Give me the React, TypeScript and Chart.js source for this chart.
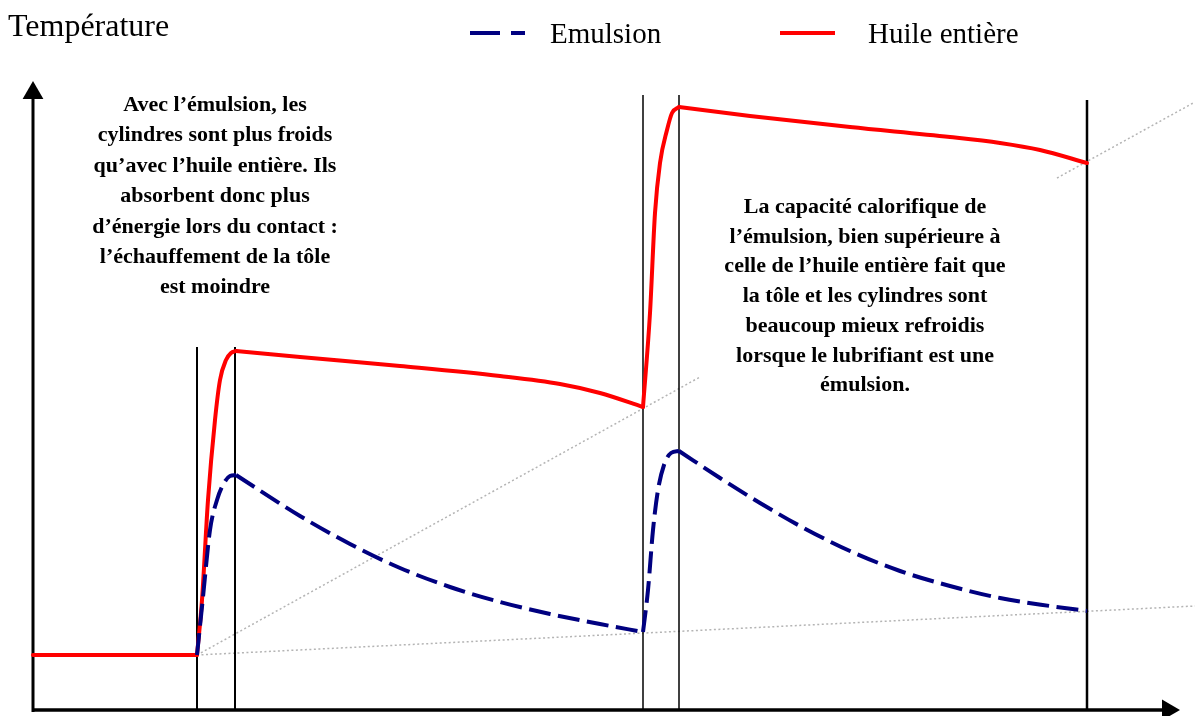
import React, { useEffect, useRef } from "react";
import { Chart, registerables } from "chart.js";

Chart.register(...registerables);

// Units: x = time (arbitrary), y = temperature (arbitrary)
const X_MIN = -3.3;
const X_MAX = 116.2;
const Y_MIN = -0.6;
const Y_MAX = 71.0;

// Huile entière (red)
const huilePalier = [
  { x: 0, y: 5.5 },
  { x: 16.4, y: 5.5 },
];
const huileMontee1 = [
  { x: 16.4, y: 5.5 },
  { x: 16.9, y: 11.0 },
  { x: 17.5, y: 21.0 },
  { x: 18.2, y: 29.0 },
  { x: 18.7, y: 33.0 },
  { x: 19.3, y: 35.0 },
  { x: 19.8, y: 35.7 },
  { x: 20.3, y: 35.9 },
];
const huileRefroid1 = [
  { x: 20.3, y: 35.9 },
  { x: 26.7, y: 35.3 },
  { x: 36.7, y: 34.4 },
  { x: 46.7, y: 33.4 },
  { x: 52.7, y: 32.6 },
  { x: 56.7, y: 31.7 },
  { x: 61.0, y: 30.3 },
];
const huileMontee2 = [
  { x: 61.0, y: 30.3 },
  { x: 61.7, y: 39.7 },
  { x: 62.2, y: 49.7 },
  { x: 62.7, y: 54.7 },
  { x: 63.4, y: 58.0 },
  { x: 63.9, y: 59.7 },
  { x: 64.6, y: 60.3 },
];
const huileRefroid2 = [
  { x: 64.6, y: 60.3 },
  { x: 71.7, y: 59.4 },
  { x: 81.7, y: 58.3 },
  { x: 91.7, y: 57.3 },
  { x: 96.7, y: 56.7 },
  { x: 100.7, y: 56.0 },
  { x: 105.4, y: 54.7 },
];

// Emulsion (navy dashed)
const emulsionMontee1 = [
  { x: 16.4, y: 5.5 },
  { x: 17.0, y: 11.3 },
  { x: 17.7, y: 18.0 },
  { x: 18.4, y: 21.0 },
  { x: 19.1, y: 22.7 },
  { x: 19.7, y: 23.4 },
  { x: 20.3, y: 23.5 },
];
const emulsionRefroid1 = [
  { x: 20.3, y: 23.5 },
  { x: 26.7, y: 19.4 },
  { x: 31.7, y: 16.6 },
  { x: 36.7, y: 14.2 },
  { x: 41.7, y: 12.3 },
  { x: 46.7, y: 10.8 },
  { x: 51.7, y: 9.6 },
  { x: 56.7, y: 8.6 },
  { x: 61.0, y: 7.8 },
];
const emulsionMontee2 = [
  { x: 61.0, y: 7.8 },
  { x: 61.5, y: 12.0 },
  { x: 62.0, y: 18.0 },
  { x: 62.5, y: 22.0 },
  { x: 63.1, y: 24.5 },
  { x: 63.8, y: 25.7 },
  { x: 64.6, y: 25.9 },
];
const emulsionRefroid2 = [
  { x: 64.6, y: 25.9 },
  { x: 68.7, y: 23.2 },
  { x: 72.7, y: 20.7 },
  { x: 76.7, y: 18.4 },
  { x: 81.7, y: 15.9 },
  { x: 86.7, y: 13.9 },
  { x: 91.7, y: 12.4 },
  { x: 96.7, y: 11.2 },
  { x: 101.7, y: 10.4 },
  { x: 105.4, y: 9.9 },
];

// Vertical markers: [x, top]
const contactX = [16.4, 20.2, 61.0, 64.6, 105.4];
const contactTop = [36.3, 36.3, 61.5, 61.5, 61.0];
const contactWidth = [2, 2, 1.5, 1.5, 2.5];

// Dotted guide lines
const guideBas = [
  { x: 16.4, y: 5.5 },
  { x: 116.2, y: 10.4 },
];
const guideMilieu = [
  { x: 16.4, y: 5.5 },
  { x: 66.7, y: 33.3 },
];
const guideHaut = [
  { x: 102.4, y: 53.2 },
  { x: 116.2, y: 60.8 },
];

// Axes
const axeY = [
  { x: 0, y: -0.2 },
  { x: 0, y: 61.7 },
];
const axeX = [
  { x: 0, y: 0 },
  { x: 113.5, y: 0 },
];
const flecheY = [{ x: 0, y: 61.7 }];
const flecheX = [{ x: 113.5, y: 0 }];

const yTitle = "Température";
const legendLabels = ["Emulsion", "Huile entière"];
const noteGauche = [
  "Avec l’émulsion, les",
  "cylindres sont plus froids",
  "qu’avec l’huile entière. Ils",
  "absorbent donc plus",
  "d’énergie lors du contact :",
  "l’échauffement de la tôle",
  "est moindre",
];
const noteDroite = [
  "La capacité calorifique de",
  "l’émulsion, bien supérieure à",
  "celle de l’huile entière fait que",
  "la tôle et les cylindres sont",
  "beaucoup mieux refroidis",
  "lorsque le lubrifiant est une",
  "émulsion.",
];

const RED = "#ff0000";
const NAVY = "#000080";
const GUIDE = "#b4b4b4";

const textPlugin = {
  id: "textPlugin",
  afterDraw(chart: any) {
    const ctx = chart.ctx as CanvasRenderingContext2D;
    ctx.save();
    ctx.fillStyle = "#000";
    ctx.textBaseline = "alphabetic";
    ctx.textAlign = "left";
    ctx.font = '32px "Liberation Serif", "Times New Roman", serif';
    ctx.fillText(yTitle, 8, 36);

    // legend
    ctx.font = '29px "Liberation Serif", "Times New Roman", serif';
    ctx.lineWidth = 4;
    ctx.strokeStyle = NAVY;
    ctx.setLineDash([30, 11]);
    ctx.beginPath();
    ctx.moveTo(470, 33);
    ctx.lineTo(525, 33);
    ctx.stroke();
    ctx.setLineDash([]);
    ctx.fillText(legendLabels[0], 550, 43);
    ctx.strokeStyle = RED;
    ctx.beginPath();
    ctx.moveTo(780, 33);
    ctx.lineTo(835, 33);
    ctx.stroke();
    ctx.fillText(legendLabels[1], 868, 43);

    // annotations
    ctx.textAlign = "center";
    ctx.font = 'bold 22px "Liberation Serif", "Times New Roman", serif';
    noteGauche.forEach((l, i) => ctx.fillText(l, 215, 111 + 30.4 * i));
    noteDroite.forEach((l, i) => ctx.fillText(l, 865, 213 + 29.7 * i));
    ctx.restore();
  },
};

export default function App() {
  const ref = useRef<HTMLCanvasElement | null>(null);
  useEffect(() => {
    if (!ref.current) return;
    const redLine = (data: any[]) => ({
      data,
      showLine: true,
      borderColor: RED,
      borderWidth: 4,
      pointRadius: 0,
      cubicInterpolationMode: "monotone",
      borderCapStyle: "round",
      borderJoinStyle: "round",
      fill: false,
      order: 1,
    });
    const navyLine = (data: any[]) => ({
      data,
      showLine: true,
      borderColor: NAVY,
      borderWidth: 4,
      borderDash: [22, 7.5],
      pointRadius: 0,
      cubicInterpolationMode: "monotone",
      borderCapStyle: "butt",
      fill: false,
      order: 0,
    });
    const guide = (data: any[]) => ({
      data,
      showLine: true,
      borderColor: GUIDE,
      borderWidth: 1.5,
      borderDash: [2, 2.5],
      pointRadius: 0,
      fill: false,
      order: 5,
    });
    const verticals = contactX.map((x, i) => ({
      data: [
        { x, y: 0 },
        { x, y: contactTop[i] },
      ],
      showLine: true,
      borderColor: "#000",
      borderWidth: contactWidth[i],
      pointRadius: 0,
      fill: false,
      order: 4,
    }));
    const chart = new Chart(ref.current, {
      type: "scatter",
      data: {
        datasets: [
          navyLine(emulsionMontee1),
          navyLine(emulsionRefroid1),
          navyLine(emulsionMontee2),
          navyLine(emulsionRefroid2),
          redLine(huilePalier),
          redLine(huileMontee1),
          redLine(huileRefroid1),
          redLine(huileMontee2),
          redLine(huileRefroid2),
          ...verticals,
          guide(guideBas),
          guide(guideMilieu),
          guide(guideHaut),
          {
            data: axeY,
            showLine: true,
            borderColor: "#000",
            borderWidth: 3,
            pointRadius: 0,
            order: 3,
          },
          {
            data: axeX,
            showLine: true,
            borderColor: "#000",
            borderWidth: 3.5,
            pointRadius: 0,
            order: 3,
          },
          {
            data: flecheY,
            showLine: false,
            pointStyle: "triangle",
            pointRadius: 12,
            pointBackgroundColor: "#000",
            pointBorderWidth: 0,
            order: 2,
          },
          {
            data: flecheX,
            showLine: false,
            pointStyle: "triangle",
            pointRadius: 12,
            pointRotation: 90,
            pointBackgroundColor: "#000",
            pointBorderWidth: 0,
            order: 2,
          },
        ] as any,
      },
      options: {
        animation: false,
        responsive: false,
        layout: { padding: 0, autoPadding: false },
        events: [],
        scales: {
          x: { type: "linear", min: X_MIN, max: X_MAX, display: false },
          y: { type: "linear", min: Y_MIN, max: Y_MAX, display: false },
        },
        plugins: {
          legend: { display: false },
          tooltip: { enabled: false },
        },
      },
      plugins: [textPlugin],
    });
    return () => chart.destroy();
  }, []);
  return (
    <div style={{ position: "absolute", left: 0, top: 0, width: 1195, height: 716, background: "#fff" }}>
      <canvas ref={ref} width={1195} height={716} style={{ display: "block" }} />
    </div>
  );
}
